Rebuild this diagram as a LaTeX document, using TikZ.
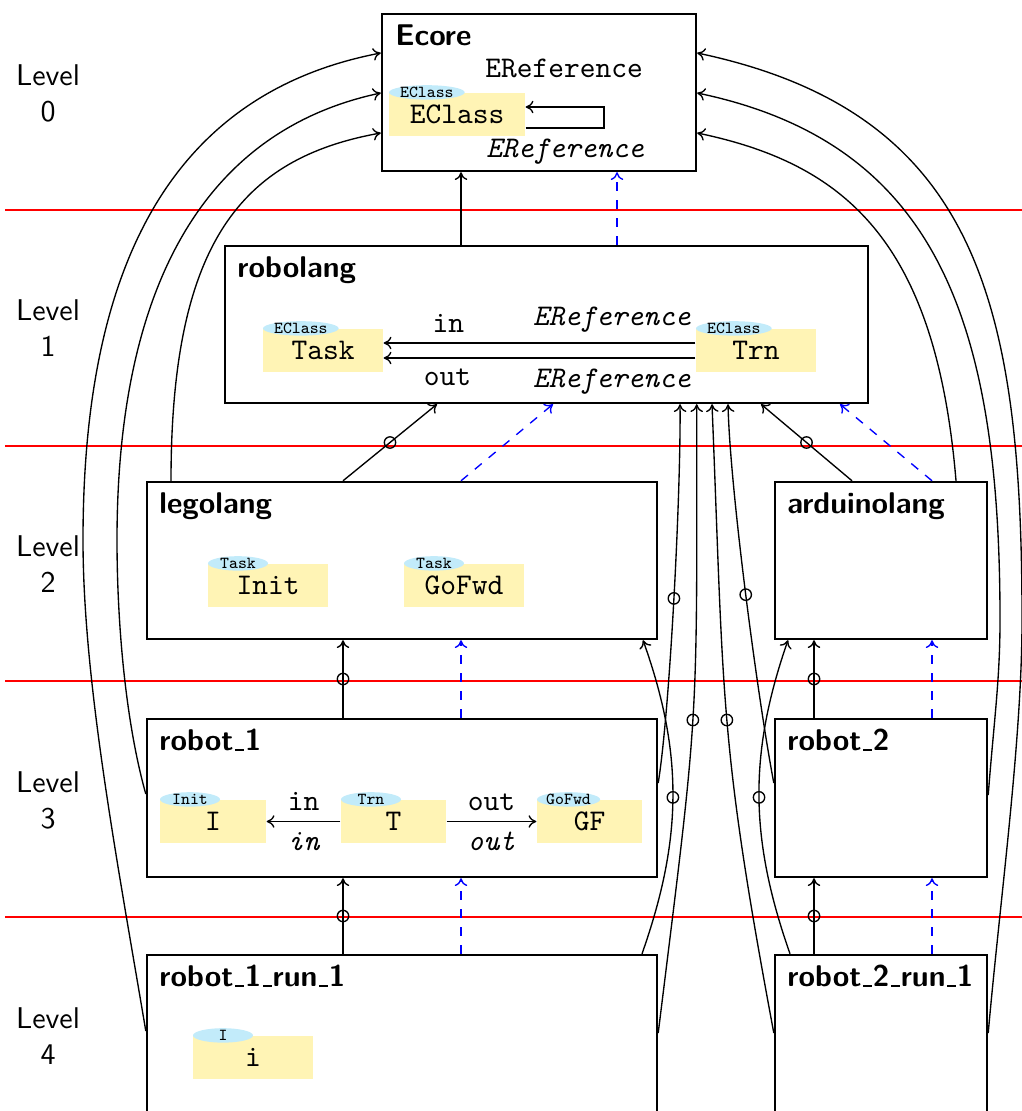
\documentclass[tikz,border=0pt]{standalone}
\usepackage{fontspec}
\usetikzlibrary{fit,shapes.geometric,calc,arrows.meta}
\definecolor{clsyellow}{RGB}{255,244,181}
\definecolor{tagcyan}{RGB}{194,235,250}
\newcommand{\us}{\leavevmode\kern.06em\vbox{\hrule width.3em height .6pt}\kern.02em}
\begin{document}
\begin{tikzpicture}[x=0.33333pt,y=-0.33333pt,
 >={To[length=2.6pt,width=4.2pt]},
 box/.style={draw, line width=0.8pt, inner sep=0pt},
 cls/.style={fill=clsyellow, inner sep=0pt, minimum height=14.33pt, minimum width=40pt, font=\ttfamily},
 tag/.style={ellipse, fill=tagcyan, inner sep=0pt, minimum width=20pt, text height=3.4pt, text depth=0pt, font=\fontsize{5.6}{6}\selectfont\ttfamily, anchor=west},
 title/.style={anchor=base west, font=\sffamily\bfseries, inner sep=0pt},
 lvl/.style={font=\sffamily, align=center},
 sep/.style={red, line width=0.6pt},
 rel/.style={->, line width=0.45pt},
 inst/.style={->, blue, dashed, line width=0.45pt},
 oc/.style={circle, draw, inner sep=0pt, minimum size=3.8pt, line width=0.45pt},
 lbl/.style={font=\ttfamily},
 ilbl/.style={font=\ttfamily\itshape},
]
\useasboundingbox (0,0) rectangle (1021,1111);

% level separators
\foreach \yy in {210,446,681,917} \draw[sep] (5,\yy) -- (1030,\yy);

% level labels
\node[lvl] (lv0) at (48,93) {Level\\0};
\node[lvl] (lv1) at (48,328) {Level\\1};
\node[lvl] (lv2) at (48,564) {Level\\2};
\node[lvl] (lv3) at (48,800) {Level\\3};
\node[lvl] (lv4) at (48,1036) {Level\\4};

% boxes
\node[box, fit={(382,14) (696,171)}] (ecore) {};
\node[box, fit={(225,246) (868,403)}] (robolang) {};
\node[box, fit={(147,482) (657,639)}] (lego) {};
\node[box, fit={(775,482) (987,639)}] (ardu) {};
\node[box, fit={(147,719) (657,877)}] (rob1) {};
\node[box, fit={(775,719) (987,877)}] (rob2) {};
\node[box, fit={(147,955) (657,1125)}] (run1) {};
\node[box, fit={(775,955) (987,1125)}] (run2) {};

% titles
\node[title] (ecore-t) at ($(ecore.north west)+(14,33)$) {Ecore};
\node[title] (robolang-t) at ($(robolang.north west)+(13,33)$) {robolang};
\node[title] (lego-t) at ($(lego.north west)+(13,33)$) {legolang};
\node[title] (ardu-t) at ($(ardu.north west)+(13,33)$) {arduinolang};
\node[title] (rob1-t) at ($(rob1.north west)+(13,33)$) {robot\us1};
\node[title] (rob2-t) at ($(rob2.north west)+(13,33)$) {robot\us2};
\node[title] (run1-t) at ($(run1.north west)+(13,33)$) {robot\us1\us run\us1};
\node[title] (run2-t) at ($(run2.north west)+(13,33)$) {robot\us2\us run\us1};

% Ecore content
\node[cls, minimum width=45.33pt] (eclass) at (457,114.5) {EClass};
\node[tag] (eclass-tag) at (eclass.north west) {EClass};
\draw[rel] (eclass.east |- 0,128) -- (604,128) -- (604,107) -- (eclass.east |- 0,107);
\node[lbl, anchor=base] (er-up) at (564,78) {EReference};
\node[ilbl, anchor=base] (er-it) at (565,158) {EReference};

% robolang content
\node[cls] (task) at (323,350.5) {Task};
\node[tag] (task-tag) at (task.north west) {EClass};
\node[cls] (trn) at (756,350.5) {Trn};
\node[tag] (trn-tag) at (trn.north west) {EClass};
\draw[rel] (trn.west |- 0,343) -- node[ilbl, above, pos=0.268] (in-er) {EReference} node[lbl, above, pos=0.792] (in-l) {in} (task.east |- 0,343);
\draw[rel] (trn.west |- 0,358) -- node[ilbl, below, pos=0.268] (out-er) {EReference} node[lbl, below, pos=0.795] (out-l) {out} (task.east |- 0,358);

% legolang content
\node[cls] (init) at (268,585.5) {Init};
\node[tag] (init-tag) at (init.north west) {Task};
\node[cls] (gofwd) at (464,585.5) {GoFwd};
\node[tag] (gofwd-tag) at (gofwd.north west) {Task};

% robot_1 content
\node[cls, minimum width=35.33pt] (oI) at (213,821.5) {I};
\node[tag] (oI-tag) at (oI.north west) {Init};
\node[cls, minimum width=35pt] (oT) at (393.5,821.5) {T};
\node[tag] (oT-tag) at (oT.north west) {Trn};
\node[cls, minimum width=35pt] (oGF) at (589.5,821.5) {GF};
\node[tag] (oGF-tag) at (oGF.north west) {GoFwd};
\draw[rel] (oT.west) -- node[lbl, above] (tin-a) {in} node[ilbl, below] (tin-b) {in} (oI.east);
\draw[rel] (oT.east) -- node[lbl, above] (tout-a) {out} node[ilbl, below] (tout-b) {out} (oGF.west);

% robot_1_run_1 content
\node[cls] (oi) at (253,1057.5) {i};
\node[tag] (oi-tag) at (oi.north west) {I};

% straight connectors
\draw[rel] (robolang.north -| 461,0) -- (ecore.south -| 461,0);
\draw[inst] (robolang.north -| 617,0) -- (ecore.south -| 617,0);
\draw[rel] (lego.north -| 343,0) -- node[oc] (c1) {} (robolang.south -| 437,0);
\draw[inst] (lego.north -| 461,0) -- (robolang.south -| 553,0);
\draw[rel] (ardu.north -| 852,0) -- node[oc] (c2) {} (robolang.south -| 761,0);
\draw[inst] (ardu.north -| 932,0) -- (robolang.south -| 840,0);
\draw[rel] (rob1.north -| 343,0) -- node[oc] (c3) {} (lego.south -| 343,0);
\draw[inst] (rob1.north -| 461,0) -- (lego.south -| 461,0);
\draw[rel] (rob2.north -| 814,0) -- node[oc] (c4) {} (ardu.south -| 814,0);
\draw[inst] (rob2.north -| 932,0) -- (ardu.south -| 932,0);
\draw[rel] (run1.north -| 343,0) -- node[oc] (c5) {} (rob1.south -| 343,0);
\draw[inst] (run1.north -| 461,0) -- (rob1.south -| 461,0);
\draw[rel] (run2.north -| 814,0) -- node[oc] (c6) {} (rob2.south -| 814,0);
\draw[inst] (run2.north -| 932,0) -- (rob2.south -| 932,0);

% middle curved connectors
\draw[rel] (rob1.east |- 0,783) .. controls (670,710) and (681,490) .. node[oc] (c7) {} (robolang.south -| 680,0);
\draw[rel] (run1.north -| 642,0) .. controls (682,840) and (684,755) .. node[oc] (c8) {} (lego.south -| 643,0);
\draw[rel] (run1.east |- 0,1033) .. controls (699,703) and (697,738) .. node[oc] (c9) {} (robolang.south -| 696.7,0);
\draw[rel] (run2.west |- 0,1033) .. controls (719,740) and (724,701) .. node[oc] (c10) {} (robolang.south -| 712,0);
\draw[rel] (rob2.west |- 0,783) .. controls (758,700) and (730,490) .. node[oc] (c11) {} (robolang.south -| 728,0);
\draw[rel] (run2.north -| 790,0) .. controls (750,840) and (748,755) .. node[oc] (c12) {} (ardu.south -| 788,0);

% long curves to Ecore
\draw[rel] (run1.west |- 0,1031) .. controls (117,860) and (83,680) .. (83,540) .. controls (83,280) and (162,95) .. (ecore.west |- 0,53);
\draw[rel] (rob1.west |- 0,794) .. controls (125,720) and (117,620) .. (117,540) .. controls (117,290) and (202,131) .. (ecore.west |- 0,93);
\draw[rel] (lego.north -| 171,0) .. controls (171,242) and (242,158) .. (ecore.west |- 0,133);
\draw[rel] (ardu.north -| 956,0) .. controls (936,242) and (846,164) .. (ecore.east |- 0,133);
\draw[rel] (rob2.east |- 0,795) .. controls (994,720) and (1000,680) .. (1000,620) .. controls (1000,320) and (936,143) .. (ecore.east |- 0,93);
\draw[rel] (run2.east |- 0,1033) .. controls (1000,900) and (1022,740) .. (1022,620) .. controls (1022,300) and (976,112) .. (ecore.east |- 0,53);
\end{tikzpicture}
\end{document}
